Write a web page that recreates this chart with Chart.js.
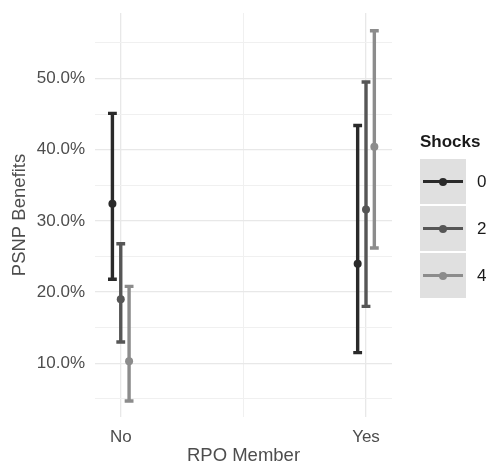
<!DOCTYPE html>
<html>
<head>
<meta charset="utf-8">
<script src="https://cdn.jsdelivr.net/npm/chart.js@4/dist/chart.umd.min.js"></script>
<style>
  html, body { margin: 0; padding: 0; background: #ffffff; }
  #wrap { position: relative; width: 486px; height: 463px; }
  #legend { position: absolute; left: 420px; top: 128px; font-family: "Liberation Sans", Arial, sans-serif; }
  #legend .title { font-weight: bold; font-size: 17px; color: #1a1a1a; height: 31px; line-height: 28px; }
  #legend .row { position: relative; height: 45px; margin-bottom: 2px; }
  #legend .key { position: absolute; left: 0; top: 0; width: 46px; height: 45px; background: #e0e0e0; }
  #legend .line { position: absolute; left: 3px; width: 40px; top: 21px; height: 3px; }
  #legend .dot { position: absolute; left: 19px; top: 18.5px; width: 8px; height: 8px; border-radius: 50%; }
  #legend .lab { position: absolute; left: 57px; top: 0; height: 45px; line-height: 45px; font-size: 17px; color: #1a1a1a; }
</style>
</head>
<body>
<div id="wrap">
  <canvas id="c" width="486" height="463"></canvas>
  <div id="legend"></div>
</div>
<script>
// RPO membership groups on the x axis
const categories = ['No', 'Yes'];
// Number of shocks, one series each
const shockLevels = ['0', '2', '4'];

// Estimated share receiving PSNP benefits, with lower / upper interval bounds
const shock0Mean  = [0.324, 0.240];
const shock0Lower = [0.218, 0.115];
const shock0Upper = [0.451, 0.434];

const shock2Mean  = [0.190, 0.316];
const shock2Lower = [0.130, 0.180];
const shock2Upper = [0.268, 0.495];

const shock4Mean  = [0.103, 0.404];
const shock4Lower = [0.047, 0.262];
const shock4Upper = [0.208, 0.567];

// Y axis gridline positions and labelled values
const yGridValues = [0.05, 0.10, 0.15, 0.20, 0.25, 0.30, 0.35, 0.40, 0.45, 0.50, 0.55];
const yTickLabels = ['10.0%', '20.0%', '30.0%', '40.0%', '50.0%'];

const series = [
  { name: shockLevels[0], mean: shock0Mean, lower: shock0Lower, upper: shock0Upper, color: '#2a2a2a' },
  { name: shockLevels[1], mean: shock2Mean, lower: shock2Lower, upper: shock2Upper, color: '#565656' },
  { name: shockLevels[2], mean: shock4Mean, lower: shock4Lower, upper: shock4Upper, color: '#8c8c8c' }
];

const dodge = 0.034;     // horizontal offset between series within a group
const capHalf = 0.018;   // half-width of error bar caps, in x units

function xPos(seriesIndex, catIndex) {
  return catIndex + 1 + (seriesIndex - (series.length - 1) / 2) * dodge;
}

const isLabelled = v => yTickLabels.includes((v * 100).toFixed(1) + '%');

// Error bars drawn beneath the point markers
const errorBars = {
  id: 'errorBars',
  beforeDatasetsDraw(chart) {
    const ctx = chart.ctx, xs = chart.scales.x, ys = chart.scales.y;
    ctx.save();
    ctx.lineWidth = 3.4;
    ctx.lineCap = 'butt';
    series.forEach((s, i) => {
      ctx.strokeStyle = s.color;
      categories.forEach((c, j) => {
        const xv = xPos(i, j);
        const px = xs.getPixelForValue(xv);
        const pl = xs.getPixelForValue(xv - capHalf);
        const pr = xs.getPixelForValue(xv + capHalf);
        const yLo = ys.getPixelForValue(s.lower[j]);
        const yHi = ys.getPixelForValue(s.upper[j]);
        ctx.beginPath();
        ctx.moveTo(px, yLo); ctx.lineTo(px, yHi);
        ctx.moveTo(pl, yLo); ctx.lineTo(pr, yLo);
        ctx.moveTo(pl, yHi); ctx.lineTo(pr, yHi);
        ctx.stroke();
      });
    });
    ctx.restore();
  }
};

const fontFamily = '"Liberation Sans", Arial, sans-serif';

new Chart(document.getElementById('c'), {
  type: 'scatter',
  data: {
    datasets: series.map((s, i) => ({
      label: s.name,
      data: categories.map((c, j) => ({ x: xPos(i, j), y: s.mean[j] })),
      backgroundColor: s.color,
      borderColor: s.color,
      pointRadius: 4,
      pointHoverRadius: 4,
      borderWidth: 0
    }))
  },
  options: {
    responsive: false,
    animation: false,
    events: [],
    layout: { padding: { top: 13, right: 94, left: 0, bottom: 0 } },
    plugins: { legend: { display: false }, tooltip: { enabled: false } },
    scales: {
      x: {
        type: 'linear',
        min: 0.895,
        max: 2.106,
        afterBuildTicks(scale) {
          scale.ticks = [{ value: 1 }, { value: 1.5 }, { value: 2 }];
        },
        afterFit(scale) {
          scale.height = 46;
          scale.paddingLeft = 0;
          scale.paddingRight = 0;
        },
        border: { display: false },
        grid: {
          drawTicks: false,
          color: ctx => (ctx.tick && ctx.tick.value === 1.5) ? '#f0f0f0' : '#e8e8e8',
          lineWidth: ctx => (ctx.tick && ctx.tick.value === 1.5) ? 1 : 1.3
        },
        ticks: {
          padding: 10,
          color: '#4d4d4d',
          font: { family: fontFamily, size: 17 },
          callback: v => (Number.isInteger(v) ? categories[v - 1] : '')
        },
        title: {
          display: true,
          text: 'RPO Member',
          color: '#4d4d4d',
          font: { family: fontFamily, size: 18.5, lineHeight: 0.72 },
          padding: { top: 0, bottom: 0 }
        }
      },
      y: {
        type: 'linear',
        min: 0.0246,
        max: 0.592,
        afterBuildTicks(scale) {
          scale.ticks = yGridValues.map(v => ({ value: v }));
        },
        afterFit(scale) {
          scale.width = 95;
          scale.paddingTop = 0;
          scale.paddingBottom = 0;
        },
        border: { display: false },
        grid: {
          drawTicks: false,
          color: ctx => (ctx.tick && isLabelled(ctx.tick.value)) ? '#e8e8e8' : '#f0f0f0',
          lineWidth: ctx => (ctx.tick && isLabelled(ctx.tick.value)) ? 1.3 : 1
        },
        ticks: {
          padding: 10,
          color: '#4d4d4d',
          font: { family: fontFamily, size: 17 },
          callback: v => {
            const t = (v * 100).toFixed(1) + '%';
            return yTickLabels.includes(t) ? t : '';
          }
        },
        title: {
          display: true,
          text: 'PSNP Benefits',
          color: '#4d4d4d',
          font: { family: fontFamily, size: 18.5 },
          padding: { top: 9, bottom: 0 }
        }
      }
    }
  },
  plugins: [errorBars]
});

// Legend for the shock series
const legend = document.getElementById('legend');
const title = document.createElement('div');
title.className = 'title';
title.textContent = 'Shocks';
legend.appendChild(title);
series.forEach((s, i) => {
  const row = document.createElement('div');
  row.className = 'row';
  row.innerHTML =
    '<div class="key"><div class="line" style="background:' + s.color + '"></div>' +
    '<div class="dot" style="background:' + s.color + '"></div></div>' +
    '<div class="lab">' + s.name + '</div>';
  legend.appendChild(row);
});
</script>
</body>
</html>
